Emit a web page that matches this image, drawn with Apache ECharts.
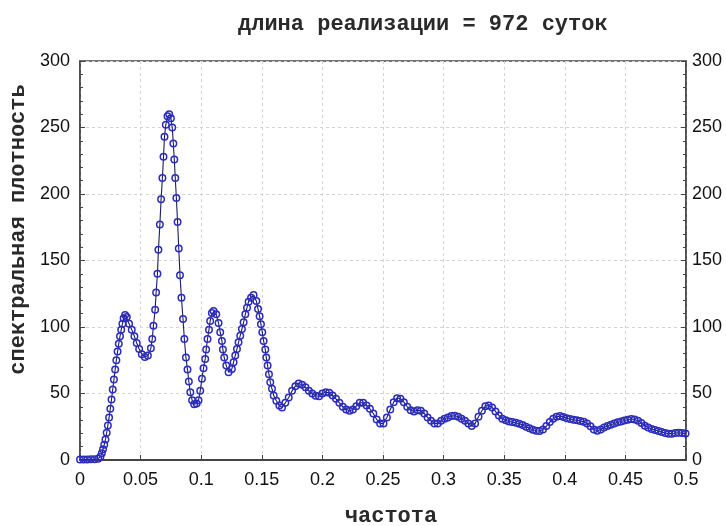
<!DOCTYPE html>
<html>
<head>
<meta charset="utf-8">
<script src="https://cdn.jsdelivr.net/npm/echarts@6/dist/echarts.min.js"></script>
<style>
html,body{margin:0;padding:0;background:#fff;}
#c{width:726px;height:526px;}
</style>
</head>
<body>
<div id="c"></div>
<script>
const titleText = 'длина реализации = 972 суток';
const xName = 'частота';
const yName = 'спектральная плотность';
const xTicks = [0, 0.05, 0.1, 0.15, 0.2, 0.25, 0.3, 0.35, 0.4, 0.45, 0.5];
const yTicks = [0, 50, 100, 150, 200, 250, 300];

const freq = [
0, 0.003, 0.006, 0.009, 0.012, 0.015, 0.0168, 0.018, 0.019, 0.020,
0.021, 0.022, 0.023, 0.024, 0.025, 0.026, 0.027, 0.028, 0.029, 0.030,
0.031, 0.032, 0.033, 0.034, 0.035, 0.036, 0.0372, 0.0386, 0.0405, 0.0427,
0.0449, 0.0468, 0.0488, 0.051, 0.0535, 0.056, 0.0585, 0.0596, 0.0606, 0.062,
0.0628, 0.0639, 0.0647, 0.0659, 0.0669, 0.068, 0.0689, 0.0697, 0.0708, 0.0722,
0.0736, 0.0750, 0.0761, 0.0770, 0.0778, 0.0786, 0.0795, 0.0805, 0.0815, 0.0825,
0.0837, 0.085, 0.0861, 0.0874, 0.0887, 0.0898, 0.091, 0.0925, 0.0942, 0.0962,
0.0978, 0.0992, 0.1006, 0.1019, 0.1033, 0.1041, 0.1052, 0.1064, 0.1074, 0.1088,
0.1102, 0.1124, 0.1143, 0.1157, 0.1171, 0.1179, 0.119, 0.1207, 0.1226, 0.1253,
0.1267, 0.1281, 0.1295, 0.1308, 0.1322, 0.1336, 0.135, 0.1364, 0.1378, 0.1391,
0.1411, 0.1432, 0.1455, 0.1469, 0.1482, 0.1493, 0.1504, 0.1515, 0.1529, 0.1537,
0.1548, 0.1559, 0.157, 0.1584, 0.1598, 0.162, 0.1645, 0.1667, 0.1694, 0.1722,
0.175, 0.1777, 0.1804, 0.1832, 0.186, 0.1888, 0.1916, 0.1944, 0.1972, 0.2000,
0.2028, 0.2056, 0.2084, 0.2112, 0.214, 0.2168, 0.2196, 0.2224, 0.2252, 0.228,
0.2308, 0.2336, 0.2364, 0.2392, 0.242, 0.2448, 0.2476, 0.2504, 0.2532, 0.256,
0.2588, 0.2616, 0.2644, 0.2672, 0.27, 0.2728, 0.2756, 0.2784, 0.2812, 0.284,
0.2868, 0.2896, 0.2924, 0.2952, 0.298, 0.3008, 0.3036, 0.3064, 0.3092, 0.312,
0.3148, 0.3176, 0.3204, 0.3232, 0.326, 0.3288, 0.3316, 0.3344, 0.3372, 0.34,
0.3428, 0.3456, 0.3484, 0.3512, 0.354, 0.3568, 0.3596, 0.3624, 0.3652, 0.368,
0.3708, 0.3736, 0.3764, 0.3792, 0.382, 0.3848, 0.3876, 0.3904, 0.3932, 0.396,
0.3988, 0.4016, 0.4044, 0.4072, 0.41, 0.4128, 0.4156, 0.4184, 0.4212, 0.424,
0.4268, 0.4296, 0.4324, 0.4352, 0.438, 0.4408, 0.4436, 0.4464, 0.4492, 0.452,
0.4548, 0.4576, 0.4604, 0.4632, 0.466, 0.4688, 0.4716, 0.4744, 0.4772, 0.48,
0.4828, 0.4856, 0.4884, 0.4912, 0.494, 0.4968, 0.4996
];

const density = [
0.4, 0.4, 0.4, 0.5, 0.6, 1, 2.5, 5, 8, 11.5,
15.5, 20.5, 26, 32, 38.5, 45.5, 53, 60.5, 68, 75,
81.5, 87.5, 93, 98, 102.5, 106.5, 109, 107.5, 102.5, 98,
93, 88, 83.5, 79.5, 77.5, 78.5, 84, 91, 101, 113,
126, 140, 158, 177, 196, 212, 228, 243, 252, 258.5,
260, 257, 250, 238, 226, 212, 197, 179, 159, 139,
122, 106, 91, 77, 68, 59, 51, 45, 42, 42.5,
45, 52, 61, 69, 76, 83, 91, 98, 104.5, 110.5,
112, 109.5, 103, 96, 89.5, 83, 77, 71, 66, 68.5,
73.5, 78.5, 83.5, 88.5, 93.5, 98.5, 103.5, 109.5, 114.5, 119,
122, 124, 119.5, 113.5, 108, 102, 96, 89.5, 83, 77,
71, 64.5, 58.5, 53.5, 48.5, 44.5, 41, 39.5, 43, 47,
52, 55.5, 57.5, 56.5, 54.7, 52, 50, 48.3, 48, 50,
51, 50.5, 48.5, 46, 43, 40, 38, 37, 38, 40.5,
43, 43, 41, 38.5, 35, 30.5, 27.5, 27.5, 32, 38,
43.5, 46.5, 46, 43.5, 40, 37.5, 36.5, 37.5, 37, 35,
32, 29.5, 27.5, 27.5, 29.5, 31, 32, 33, 33.3, 32.5,
31, 29.5, 27.5, 25.5, 27.5, 32.5, 37, 40.5, 41, 39.5,
36.5, 33.5, 31, 29.8, 29, 28.5, 28, 27.3, 26.3, 25,
23.8, 22.8, 22, 21.8, 23, 25.5, 28.5, 31, 32.5, 33,
32.3, 31.3, 30.8, 30.3, 29.8, 29.3, 28.8, 27.5, 25.3, 23,
22, 23, 24.5, 25.5, 26.5, 27.5, 28.3, 29, 29.7, 30.3,
30.8, 30.5, 29.5, 27.8, 25.8, 24.5, 23.3, 22.5, 21.8, 21,
20.3, 19.8, 19.8, 20.3, 20.5, 20.3, 20
];

const seriesData = freq.map((f, i) => [f, density[i]]);

const labelFont = "'Liberation Sans Narrow', 'Liberation Sans', Arial, sans-serif";
const monoFont = "'Courier New', 'Liberation Mono', monospace";

const chart = echarts.init(document.getElementById('c'), null, {renderer: 'canvas'});

const yAxisCommon = {
  type: 'value',
  min: yTicks[0],
  max: yTicks[yTicks.length - 1],
  interval: yTicks[1] - yTicks[0],
  axisLine: {show: true, lineStyle: {color: '#444', width: 1.5}},
  axisTick: {show: true, inside: true, length: 5, lineStyle: {color: '#444'}},
  minorTick: {show: true, splitNumber: 5, length: 3, lineStyle: {color: '#444'}},
  axisLabel: {fontFamily: labelFont, fontSize: 18, color: '#111'}
};

chart.setOption({
  animation: false,
  backgroundColor: '#fff',
  title: {
    text: titleText,
    left: 233,
    top: 8,
    textStyle: {fontFamily: monoFont, fontSize: 22, fontWeight: 'bold', color: '#2a2a2a'}
  },
  grid: {
    left: 80, right: 40, top: 61, bottom: 66,
    outerBoundsMode: 'none',
    containLabel: false,
    show: true, borderColor: '#444', borderWidth: 1.5, backgroundColor: '#fff'
  },
  xAxis: {
    type: 'value',
    min: xTicks[0],
    max: xTicks[xTicks.length - 1],
    interval: xTicks[1] - xTicks[0],
    name: xName,
    nameLocation: 'middle',
    nameGap: 45,
    nameTextStyle: {fontFamily: monoFont, fontSize: 22, fontWeight: 'bold', color: '#2a2a2a', padding: [0, 0, 0, 16]},
    axisLine: {show: true, lineStyle: {color: '#444', width: 2}},
    axisTick: {show: true, inside: true, length: 5, lineStyle: {color: '#444'}},
    axisLabel: {fontFamily: labelFont, fontSize: 18, color: '#111', margin: 11},
    splitLine: {show: true, lineStyle: {color: '#d4d4d4', type: [3, 3], width: 1}}
  },
  yAxis: [
    Object.assign({}, yAxisCommon, {
      position: 'left',
      name: yName,
      nameLocation: 'middle',
      nameGap: 50,
      nameRotate: 90,
      nameTextStyle: {fontFamily: monoFont, fontSize: 22, fontWeight: 'bold', color: '#2a2a2a', padding: [0, 0, 0, 62]},
      axisLabel: {fontFamily: labelFont, fontSize: 18, color: '#111', margin: 10},
      splitLine: {show: true, lineStyle: {color: '#d4d4d4', type: [3, 3], width: 1}}
    }),
    Object.assign({}, yAxisCommon, {
      position: 'right',
      axisLabel: {fontFamily: labelFont, fontSize: 18, color: '#111', margin: 6},
      splitLine: {show: false}
    })
  ],
  series: [{
    type: 'line',
    data: seriesData,
    yAxisIndex: 0,
    symbol: 'circle',
    symbolSize: 6.5,
    showSymbol: true,
    showAllSymbol: true,
    clip: false,
    lineStyle: {color: '#1c1c64', width: 1.1},
    itemStyle: {color: 'rgba(255,255,255,0)', borderColor: '#2c2cbc', borderWidth: 1.5},
    emphasis: {disabled: true}
  }]
});
</script>
</body>
</html>
